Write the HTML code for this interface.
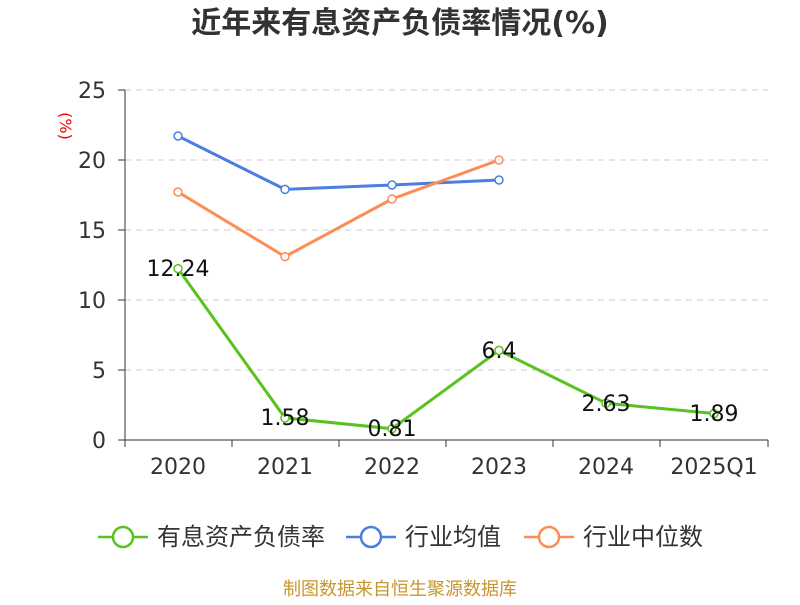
<!DOCTYPE html>
<html><head><meta charset="utf-8"><style>
body{margin:0;background:#fff;}
svg text{font-family:"DejaVu Sans","Noto Sans CJK SC",sans-serif;}
</style></head><body>
<svg width="800" height="600" xmlns="http://www.w3.org/2000/svg">
<text x="400" y="33" text-anchor="middle" font-size="30" font-weight="bold" fill="#333">近年来有息资产负债率情况(%)</text>
<text x="60" y="126" font-size="16" fill="#e00" transform="rotate(90 60 126)" text-anchor="middle">(%)</text>
<g stroke="#ccc" stroke-dasharray="6,5" stroke-width="1">
<line x1="125" y1="90" x2="768" y2="90"/><line x1="125" y1="160" x2="768" y2="160"/>
<line x1="125" y1="230" x2="768" y2="230"/><line x1="125" y1="300" x2="768" y2="300"/>
<line x1="125" y1="370" x2="768" y2="370"/>
</g>
<g stroke="#333" stroke-width="1">
<line x1="125" y1="90" x2="125" y2="440"/>
<line x1="125" y1="440" x2="768" y2="440"/>
<line x1="118" y1="90" x2="125" y2="90"/><line x1="118" y1="160" x2="125" y2="160"/>
<line x1="118" y1="230" x2="125" y2="230"/><line x1="118" y1="300" x2="125" y2="300"/>
<line x1="118" y1="370" x2="125" y2="370"/><line x1="118" y1="440" x2="125" y2="440"/>
<line x1="125" y1="440" x2="125" y2="447"/><line x1="232" y1="440" x2="232" y2="447"/>
<line x1="339" y1="440" x2="339" y2="447"/><line x1="446" y1="440" x2="446" y2="447"/>
<line x1="553" y1="440" x2="553" y2="447"/><line x1="660" y1="440" x2="660" y2="447"/>
<line x1="768" y1="440" x2="768" y2="447"/>
</g>
<g font-size="22" fill="#333" text-anchor="end">
<text x="106" y="98">25</text><text x="106" y="168">20</text><text x="106" y="238">15</text>
<text x="106" y="308">10</text><text x="106" y="378">5</text><text x="106" y="448">0</text>
</g>
<g font-size="22" fill="#333" text-anchor="middle">
<text x="178" y="474">2020</text><text x="285" y="474">2021</text><text x="392" y="474">2022</text>
<text x="499" y="474">2023</text><text x="606" y="474">2024</text><text x="714" y="474">2025Q1</text>
</g>
<g fill="none" stroke-width="3">
<polyline stroke="#4a7fe0" points="178,136 285,189.4 392,185 499,180"/>
<polyline stroke="#ff8c55" points="178,192 285,256.6 392,199 499,160"/>
<polyline stroke="#5ac21e" points="178,268.6 285,417.9 392,428.7 499,350.4 606,403.2 714,413.5"/>
</g>
<g fill="#fff" stroke-width="1.5">
<g stroke="#4a7fe0"><circle cx="178" cy="136" r="4"/><circle cx="285" cy="189.4" r="4"/><circle cx="392" cy="185" r="4"/><circle cx="499" cy="180" r="4"/></g>
<g stroke="#ff8c55"><circle cx="178" cy="192" r="4"/><circle cx="285" cy="256.6" r="4"/><circle cx="392" cy="199" r="4"/><circle cx="499" cy="160" r="4"/></g>
<g stroke="#5ac21e"><circle cx="178" cy="268.6" r="4"/><circle cx="285" cy="417.9" r="4"/><circle cx="392" cy="428.7" r="4"/><circle cx="499" cy="350.4" r="4"/><circle cx="606" cy="403.2" r="4"/><circle cx="714" cy="413.5" r="4"/></g>
</g>
<g font-size="22" fill="#111" text-anchor="middle">
<text x="178" y="276">12.24</text><text x="285" y="425">1.58</text><text x="392" y="436">0.81</text>
<text x="499" y="358">6.4</text><text x="606" y="411">2.63</text><text x="714" y="421">1.89</text>
</g>
<g stroke-width="2.5" fill="#fff">
<line x1="98" y1="537" x2="148" y2="537" stroke="#5ac21e"/><circle cx="123" cy="537" r="10" stroke="#5ac21e"/>
<line x1="346" y1="537" x2="396" y2="537" stroke="#4a7fe0"/><circle cx="371" cy="537" r="10" stroke="#4a7fe0"/>
<line x1="524" y1="537" x2="574" y2="537" stroke="#ff8c55"/><circle cx="549" cy="537" r="10" stroke="#ff8c55"/>
</g>
<g font-size="24" fill="#333">
<text x="157" y="545">有息资产负债率</text><text x="405" y="545">行业均值</text><text x="583" y="545">行业中位数</text>
</g>
<text x="400" y="595" text-anchor="middle" font-size="18" fill="#c8962e">制图数据来自恒生聚源数据库</text>
</svg>
</body></html>
